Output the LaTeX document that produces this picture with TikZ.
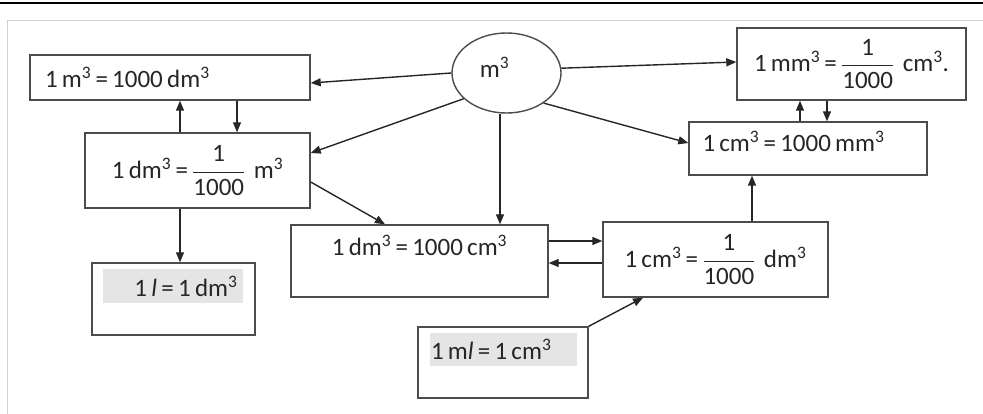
\documentclass[tikz,border=0pt]{standalone}
\usepackage{fontspec}
\setmainfont{Carlito}
\usetikzlibrary{positioning, shapes.geometric, arrows.meta}
\newcommand{\cub}{\textsuperscript{3}}
\newcommand{\tightsp}{\spaceskip=0.17em\relax}
\newcommand{\thou}[1]{\ensuremath{\displaystyle\frac{\mbox{#1}}{\mbox{1000}}}}

\begin{document}
\begin{tikzpicture}[x=1pt, y=-1pt,
	box/.style={draw=black!70, line width=1.4pt, fill=white, inner sep=0pt},
	txt/.style={inner sep=0pt},
	hl/.style={fill=black!10, inner sep=0pt},
	arr/.style={-{Triangle[length=10pt,width=8pt]}, line width=1.4pt, draw=black!85},
	font=\fontsize{25}{29}\selectfont, execute at begin node=\tightsp, text=black!85]
			\useasboundingbox (0,0) rectangle (983,414);
			\draw[line width=1.5pt] (0,3) -- (983,3);
			\draw[black!18, line width=0.8pt] (7,414) -- (7,20) -- (983,20);

			\node[box, ellipse, minimum width=109pt, minimum height=80pt] (m3) at (506.5,73) {};
			\node[txt] (m3t) at ([xshift=-12pt,yshift=6pt]m3.center) {m\cub};

			\node[box, minimum width=280pt, minimum height=45pt, text width=250pt, align=left] (A) at (170,77.5) {1 m\cub{} = 1000 dm\cub};
			\node[box, minimum width=225pt, minimum height=75pt] (B) at (197.5,170.5) {1 dm\cub{} = \thou{1}\ \ m\cub};
			\node[box, minimum width=229pt, minimum height=72pt] (C) at (851.5,64) {1 mm\cub{} = \thou{1}\ \ cm\cub.};
			\node[box, minimum width=238pt, minimum height=53pt] (D) at (808,148.5) {};
			\node[txt, below right=10pt and 14pt of D.north west, anchor=north west] (Dt) {1 cm\cub{} = 1000 mm\cub};
			\node[box, minimum width=257pt, minimum height=72pt] (E) at (419.5,261) {};
			\node[txt, below=11pt of E.north] (Et) {1 dm\cub{} = 1000 cm\cub};
			\node[box, minimum width=225pt, minimum height=75pt] (F) at (715.5,259.5) {1 cm\cub{} = \thou{1}\ \ dm\cub};
			\node[box, minimum width=163pt, minimum height=72pt] (G) at (173.5,299) {};
			\node[hl, minimum width=140pt, minimum height=33pt, text width=130pt, align=right, below right=7pt and 11pt of G.north west, anchor=north west] (Gt) {1 \textit{l} = 1 dm\cub};
			\node[box, minimum width=170pt, minimum height=71pt] (H) at (503,362.5) {};
			\node[hl, minimum width=147pt, minimum height=33pt, text width=144pt, align=left, below right=6pt and 12pt of H.north west, anchor=north west] (Ht) {1 m\textit{l} = 1 cm\cub};

			\draw[arr] (m3.west) -- ([yshift=-5.5pt]A.east);
			\draw[arr] (m3.211) -- ([yshift=17.5pt]B.east);
			\draw[arr] ([xshift=-6.5pt]m3.south) -- ([xshift=-6.5pt]m3.south |- E.north);
			\draw[arr] (m3.5) -- ([yshift=2pt]C.west);
			\draw[arr] (m3.-39) -- ([yshift=5.5pt]D.west);
			\draw[arr] ([xshift=-17.5pt]B.north) -- ([xshift=-17.5pt]B.north |- A.south);
			\draw[arr] ([xshift=39.5pt]B.north |- A.south) -- ([xshift=39.5pt]B.north);
			\draw[arr] ([xshift=-17.5pt]B.south) -- ([xshift=-17.5pt]B.south |- G.north);
			\draw[arr] ([yshift=-11.5pt]B.east) -- ([xshift=-34.5pt]E.north);
			\draw[arr] ([yshift=20pt]E.east) -- ([yshift=20pt]E.east -| F.west);
			\draw[arr] ([yshift=-2pt]E.east -| F.west) -- ([yshift=-2pt]E.east);
			\draw[arr] ([xshift=36.5pt]F.north) -- ([xshift=36.5pt]F.north |- D.south);
			\draw[arr] ([xshift=-8pt]D.north) -- ([xshift=-8pt]D.north |- C.south);
			\draw[arr] ([xshift=19pt]D.north |- C.south) -- ([xshift=19pt]D.north);
			\draw[arr] (H.north east) -- ([xshift=-72.5pt]F.south);
		\end{tikzpicture}
\end{document}
